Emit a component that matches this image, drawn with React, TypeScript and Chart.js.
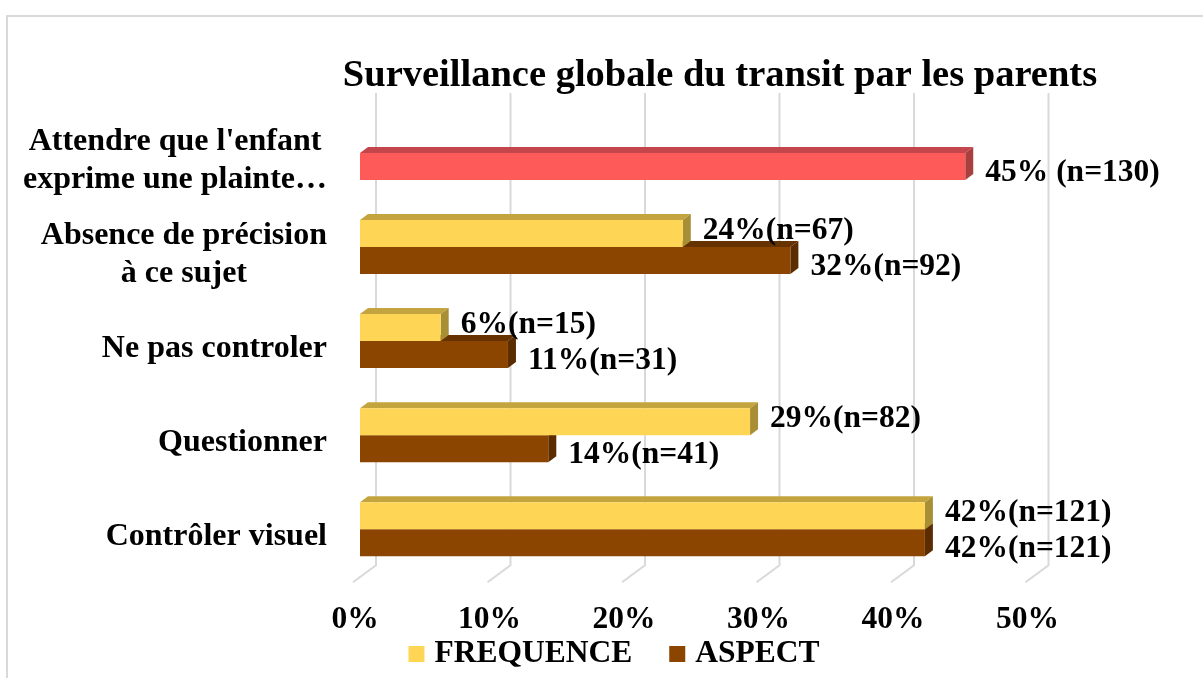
import React, { useEffect, useRef } from 'react';
import { Chart, registerables } from 'chart.js';

Chart.register(...registerables);

// ---------- data ----------
const titleText = 'Surveillance globale du transit par les parents';
const categories: string[][] = [
  ["Attendre que l'enfant", 'exprime une plainte…'],
  ['Absence de précision', 'à ce sujet'],
  ['Ne pas controler'],
  ['Questionner'],
  ['Contrôler visuel'],
];
const seriesNames = ['FREQUENCE', 'ASPECT'];
const frequence: (number | null)[] = [null, 24, 6, 29, 42];
const aspect: number[] = [45, 32, 11, 14, 42];
const frequenceLabels: (string | null)[] = [null, '24%(n=67)', '6%(n=15)', '29%(n=82)', '42%(n=121)'];
const aspectLabels: string[] = ['45% (n=130)', '32%(n=92)', '11%(n=31)', '14%(n=41)', '42%(n=121)'];
const xMin = 0;
const xMax = 50;
const xStep = 10;

// ---------- styles ----------
const FONT = "'Liberation Serif', 'Times New Roman', serif";
const YELLOW = { front: '#FFD555', top: '#C4A43E', side: '#A88F36' };
const BROWN = { front: '#8B4500', top: '#653200', side: '#5A2C00' };
const RED = { front: '#FF5A5A', top: '#C2464B', side: '#A8403F' };
const GRID = '#D9D9D9';
const DX = 8; // bar depth (x)
const DY = 6; // bar depth (y)
const LABEL_SHIFT = [-3, 6]; // vertical label shift per series (style)

function barColors(datasetIndex: number, index: number) {
  if (datasetIndex === 0) return YELLOW;
  return index === 0 ? RED : BROWN;
}

const labelsByDataset = [frequenceLabels, aspectLabels];

const threeD = {
  id: 'threeD',
  beforeDraw(chart: any) {
    const ctx = chart.ctx;
    ctx.save();
    ctx.fillStyle = '#FFFFFF';
    ctx.fillRect(0, 0, chart.width, chart.height);
    ctx.strokeStyle = GRID;
    ctx.lineWidth = 2;
    ctx.strokeRect(7, 16, chart.width + 20, chart.height + 20);
    ctx.restore();
  },
  beforeDatasetsDraw(chart: any) {
    const ctx = chart.ctx;
    const xs = chart.scales.x;
    const area = chart.chartArea;
    ctx.save();
    // back-wall gridlines and floor
    ctx.strokeStyle = GRID;
    ctx.lineWidth = 2;
    for (let v = xMin; v <= xMax; v += xStep) {
      const px = xs.getPixelForValue(v);
      ctx.beginPath();
      ctx.moveTo(px + 16, area.top - 13);
      ctx.lineTo(px + 16, area.bottom - 11);
      ctx.lineTo(px - 7, area.bottom + 6);
      ctx.stroke();
    }
    // top and side faces, lower series first
    for (let d = chart.data.datasets.length - 1; d >= 0; d--) {
      const meta = chart.getDatasetMeta(d);
      meta.data.forEach((bar: any, i: number) => {
        const val = chart.data.datasets[d].data[i];
        if (val == null) return;
        const { x, y, base, height } = bar.getProps(['x', 'y', 'base', 'height'], true);
        const top = y - height / 2;
        const bottom = y + height / 2;
        const left = Math.min(x, base);
        const right = Math.max(x, base);
        const c = barColors(d, i);
        ctx.fillStyle = c.top;
        ctx.beginPath();
        ctx.moveTo(left, top);
        ctx.lineTo(left + DX, top - DY);
        ctx.lineTo(right + DX, top - DY);
        ctx.lineTo(right, top);
        ctx.closePath();
        ctx.fill();
        ctx.fillStyle = c.side;
        ctx.beginPath();
        ctx.moveTo(right, top);
        ctx.lineTo(right + DX, top - DY);
        ctx.lineTo(right + DX, bottom - DY);
        ctx.lineTo(right, bottom);
        ctx.closePath();
        ctx.fill();
      });
    }
    ctx.restore();
  },
  afterDatasetsDraw(chart: any) {
    const ctx = chart.ctx;
    ctx.save();
    ctx.fillStyle = '#000000';
    ctx.font = `bold 31.5px ${FONT}`;
    ctx.textAlign = 'left';
    ctx.textBaseline = 'middle';
    chart.data.datasets.forEach((ds: any, d: number) => {
      const meta = chart.getDatasetMeta(d);
      meta.data.forEach((bar: any, i: number) => {
        const txt = labelsByDataset[d][i];
        if (ds.data[i] == null || !txt) return;
        const { x, y } = bar.getProps(['x', 'y'], true);
        ctx.fillText(txt, x + DX + 12, y + LABEL_SHIFT[d]);
      });
    });
    ctx.restore();
  },
  afterDraw(chart: any) {
    const ctx = chart.ctx;
    const ys = chart.scales.y;
    const area = chart.chartArea;
    ctx.save();
    ctx.fillStyle = '#000000';
    // category labels: block right-aligned, lines centred within block
    ctx.font = `bold 32px ${FONT}`;
    ctx.textAlign = 'center';
    ctx.textBaseline = 'middle';
    const lineH = 38;
    const rightEdge = area.left - 33;
    categories.forEach((lines, i) => {
      const cy = ys.getPixelForValue(i) + 8;
      const w = Math.max(...lines.map((l) => ctx.measureText(l).width));
      const cx = rightEdge - w / 2;
      lines.forEach((l, k) => {
        ctx.fillText(l, cx, cy + (k - (lines.length - 1) / 2) * lineH);
      });
    });
    // legend
    ctx.font = `bold 31.5px ${FONT}`;
    ctx.textAlign = 'left';
    const box = 16;
    const gapText = 10;
    const gapItem = 37;
    const cols = [YELLOW.front, BROWN.front];
    const widths = seriesNames.map((n) => ctx.measureText(n).width);
    const total = widths.reduce((a, w) => a + box + gapText + w, 0) + gapItem * (seriesNames.length - 1);
    let lx = 614 - total / 2;
    const ly = 654;
    seriesNames.forEach((n, k) => {
      ctx.fillStyle = cols[k];
      ctx.fillRect(lx, ly - box / 2, box, box);
      ctx.fillStyle = '#000000';
      ctx.fillText(n, lx + box + gapText, ly);
      lx += box + gapText + widths[k] + gapItem;
    });
    ctx.restore();
  },
};

export default function App() {
  const ref = useRef<HTMLCanvasElement | null>(null);
  useEffect(() => {
    if (!ref.current) return;
    const chart = new Chart(ref.current, {
      type: 'bar',
      data: {
        labels: categories,
        datasets: [
          {
            label: seriesNames[0],
            data: frequence,
            backgroundColor: YELLOW.front,
            categoryPercentage: 0.574,
            barPercentage: 1,
          },
          {
            label: seriesNames[1],
            data: aspect,
            backgroundColor: aspect.map((_, i) => barColors(1, i).front),
            categoryPercentage: 0.574,
            barPercentage: 1,
          },
        ],
      } as any,
      options: {
        indexAxis: 'y',
        animation: false,
        responsive: false,
        layout: { padding: { left: 237, right: 0, top: 0, bottom: 14 } },
        scales: {
          x: {
            type: 'linear',
            min: xMin,
            max: xMax,
            position: 'bottom',
            grid: { display: false, drawTicks: false },
            border: { display: false },
            ticks: {
              stepSize: xStep,
              padding: 25,
              labelOffset: -5,
              color: '#000000',
              font: { family: FONT, size: 31.5, weight: 'bold', lineHeight: 1.2 },
              callback: (v: any) => `${v}%`,
            },
          },
          y: {
            type: 'category',
            position: 'left',
            grid: { display: false },
            border: { display: false },
            ticks: { display: false },
            afterFit: (s: any) => {
              s.width = 123;
            },
          },
          y2: {
            type: 'category',
            position: 'right',
            grid: { display: false },
            border: { display: false },
            ticks: { display: false },
            afterFit: (s: any) => {
              s.width = 170.5;
            },
          },
        },
        plugins: {
          title: {
            display: true,
            text: titleText,
            color: '#000000',
            font: { family: FONT, size: 38.5, weight: 'bold', lineHeight: 1.2 },
            padding: { top: 53, bottom: 6.8 },
          },
          legend: { display: false },
          tooltip: { enabled: false },
        },
      } as any,
      plugins: [threeD],
    });
    return () => chart.destroy();
  }, []);
  return (
    <div style={{ position: 'absolute', left: 0, top: 0, width: 1203, height: 678 }}>
      <canvas ref={ref} width={1203} height={678} style={{ display: 'block' }} />
    </div>
  );
}
